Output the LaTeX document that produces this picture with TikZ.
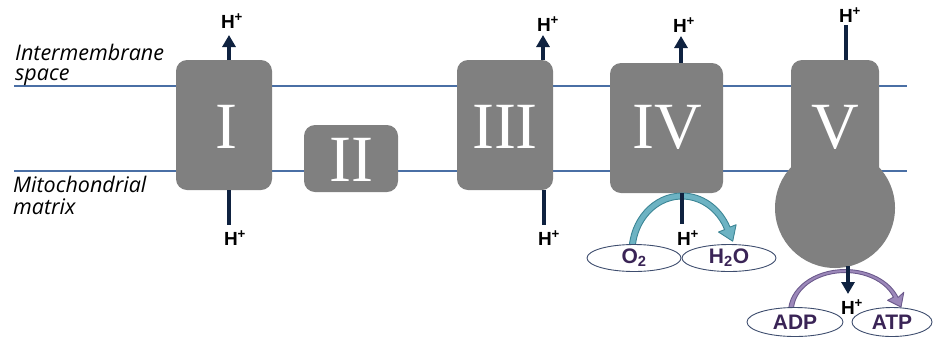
\documentclass[tikz,border=0pt]{standalone}
\usepackage{fontspec}
\setmainfont{Liberation Serif}
\newfontfamily\lblfont{Open Sans}
\newfontfamily\hfont{Liberation Sans}
\usetikzlibrary{arrows.meta,shapes.geometric}
\definecolor{membr}{HTML}{4A6FA5}
\definecolor{cplx}{HTML}{808080}
\definecolor{navy}{HTML}{0F2240}
\definecolor{tealF}{HTML}{6DB3C3}
\definecolor{tealD}{HTML}{3C8595}
\definecolor{purF}{HTML}{9C88BA}
\definecolor{purD}{HTML}{6C5A8C}
\definecolor{ellD}{HTML}{3E4D6E}
\definecolor{txtP}{HTML}{3A2456}
\begin{document}
\begin{tikzpicture}[x=1pt,y=1pt,
  membrane/.style={draw=membr,line width=2pt},
  numeral/.style={text=white,font=\fontsize{66}{66}\selectfont},
  proton/.style={font=\hfont\bfseries\fontsize{19}{19}\selectfont,inner sep=0pt},
  pump/.style={draw=navy,line width=4pt},
  pumparrow/.style={pump,-{Triangle[length=12pt,width=13pt]}},
  region/.style={font=\lblfont\itshape\fontsize{21.5}{21.5}\selectfont,anchor=base west,inner sep=0pt},
  molecule/.style={draw=ellD,fill=white,line width=0.9pt,ellipse,minimum height=27pt,inner sep=0pt,
     font=\hfont\bfseries\fontsize{21}{21}\selectfont,text=txtP},
]
\useasboundingbox (0,0) rectangle (933,-341);

% membranes
\coordinate (m1a) at (14,-86);
\coordinate (m1b) at (907,-86);
\coordinate (m2a) at (14,-171);
\coordinate (m2b) at (907,-171);
\draw[membrane] (m1a) -- (m1b);
\draw[membrane] (m2a) -- (m2b);

% region labels
\node[region] (ims1) at (15,-60) {Intermembrane};
\node[region] (ims2) at (15,-80) {space};
\node[region] (mm1) at (13,-192) {Mitochondrial};
\node[region] (mm2) at (13,-214) {matrix};

% complexes
\fill[cplx,rounded corners=11pt] (176,-60) rectangle (272,-190);
\node[numeral] (cI) at (226,-127) {I};
\fill[cplx,rounded corners=11pt] (304,-125) rectangle (398,-192);
\node[numeral] (cII) at (351,-160) {II};
\fill[cplx,rounded corners=11pt] (457,-60) rectangle (553,-190);
\node[numeral] (cIII) at (505,-127) {III};
\fill[cplx,rounded corners=11pt] (610,-63) rectangle (723,-193);
\node[numeral] (cIV) at (667,-127) {IV};
% complex V
\fill[cplx,rounded corners=11pt] (791,-180) -- (791,-60) -- (879,-60) -- (879,-180) -- cycle;
\fill[cplx] (835,-208) circle[radius=60];
\fill[cplx] (791,-150) rectangle (879,-180);
\node[numeral] (cV) at (835,-127) {V};

% proton pumps
\coordinate (IupS) at (229,-60);
\coordinate (IupE) at (229,-35);
\coordinate (IdnS) at (229,-190);
\coordinate (IdnE) at (229,-225);
\draw[pumparrow] (IupS) -- (IupE);
\draw[pump] (IdnS) -- (IdnE);
\node[proton] (hI1) at (232,-21) {H\textsuperscript{+}};
\node[proton] (hI2) at (235,-238) {H\textsuperscript{+}};

\coordinate (IIIupS) at (543,-60);
\coordinate (IIIupE) at (543,-35);
\coordinate (IIIdnS) at (544,-190);
\coordinate (IIIdnE) at (544,-225);
\draw[pumparrow] (IIIupS) -- (IIIupE);
\draw[pump] (IIIdnS) -- (IIIdnE);
\node[proton] (hIII1) at (548,-24) {H\textsuperscript{+}};
\node[proton] (hIII2) at (549,-238) {H\textsuperscript{+}};

\coordinate (IVupS) at (681,-63);
\coordinate (IVupE) at (681,-36);
\coordinate (IVdnS) at (682,-193);
\coordinate (IVdnE) at (682,-224);
\draw[pumparrow] (IVupS) -- (IVupE);
\node[proton] (hIV1) at (684,-25) {H\textsuperscript{+}};
\node[proton] (hIV2) at (688,-238) {H\textsuperscript{+}};

\coordinate (VupS) at (846,-60);
\coordinate (VupE) at (846,-25);
\draw[pump] (VupS) -- (VupE);
\node[proton] (hV1) at (850,-15) {H\textsuperscript{+}};

% O2 -> H2O curved arrow
\filldraw[fill=tealF,draw=tealD,line width=0.9pt,line join=round]
  (629,-252) arc[start angle=180,end angle=25,x radius=53,y radius=59]
  -- (736.1,-224.7) -- (732.7,-241.2) -- (718.5,-232)
  -- (724.6,-229.6) arc[start angle=25,end angle=180,x radius=47,y radius=53] -- cycle;
\draw[pump] (IVdnS) -- (IVdnE);

% ADP -> ATP curved arrow
\filldraw[fill=purF,draw=purD,line width=0.9pt,line join=round]
  (788.5,-312) arc[start angle=180,end angle=20,x radius=56.5,y radius=42.5]
  -- (903.8,-292.3) -- (901,-307) -- (887.6,-300.3)
  -- (893.4,-297.2) arc[start angle=20,end angle=180,x radius=51.5,y radius=37.5] -- cycle;
\coordinate (VdnS) at (848,-266);
\coordinate (VdnE) at (848,-294);
\draw[pumparrow] (VdnS) -- (VdnE);
\node[proton] (hV2) at (852,-307) {H\textsuperscript{+}};

% molecules
\node[molecule,minimum width=94pt] (o2) at (634,-258) {O\textsubscript{2}};
\node[molecule,minimum width=94pt] (h2o) at (729,-258) {H\textsubscript{2}O};
\node[molecule,minimum width=96pt,minimum height=29pt] (adp) at (795,-322) {ADP};
\node[molecule,minimum width=80pt,minimum height=29pt] (atp) at (892,-322) {ATP};
\end{tikzpicture}
\end{document}
